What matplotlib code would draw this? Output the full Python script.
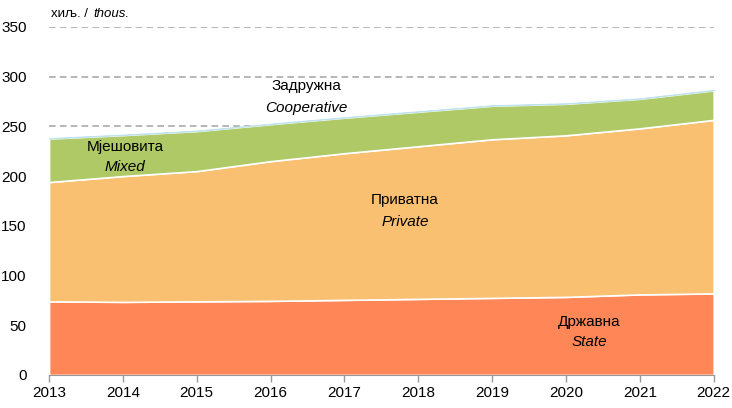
import matplotlib.pyplot as plt
import numpy as np

plt.rcParams['font.family'] = ['Liberation Sans', 'DejaVu Sans']

# Дані (тис.)
years = [2013, 2014, 2015, 2016, 2017, 2018, 2019, 2020, 2021, 2022]
state = [74, 73.5, 74, 74.5, 75.5, 76.5, 77.5, 78.5, 81, 82]
private = [120, 126.5, 131, 140.5, 147.5, 153.5, 159.5, 162.5, 167, 174.5]
mixed = [43.7, 41.2, 40.2, 37.2, 35.7, 34.7, 33.7, 31.7, 29.7, 29.7]
cooperative = [0.6, 0.6, 0.6, 0.6, 0.6, 0.6, 0.6, 0.6, 0.6, 0.6]

colors = ['#FF8656', '#F9C071', '#AEC966', '#BFE3EC']

fig = plt.figure(figsize=(7.32, 4.08), dpi=100)
ax = fig.add_axes([0.067, 0.081, 0.908, 0.853])

polys = ax.stackplot(years, state, private, mixed, cooperative, colors=colors,
                     edgecolor='white', linewidth=1.2, zorder=2)
polys[-1].set_edgecolor('#BFE3EC')
polys[-1].set_linewidth(0.6)

ax.set_xlim(2013, 2022)
ax.set_ylim(0, 350)
ax.set_xticks(years)
ax.set_yticks(range(0, 351, 50))
ax.yaxis.grid(True, linestyle=(0, (4, 2.5)), color='#AAAAAA', linewidth=1.2, zorder=0)
ax.set_axisbelow(True)

for s in ['top', 'right', 'left']:
    ax.spines[s].set_visible(False)
ax.spines['bottom'].set_color('#999999')
ax.spines['bottom'].set_zorder(3)
ax.tick_params(axis='x', colors='#999999', length=5, width=1, labelcolor='black',
               labelsize=11, pad=3)
ax.tick_params(axis='y', length=0, labelsize=11, pad=16, labelcolor='black')

# Підписи шарів
def layer_label(x, y1, y2, top, bottom):
    ax.text(x, y1, top, ha='center', va='center', fontsize=11, zorder=5)
    ax.text(x, y2, bottom, ha='center', va='center', fontsize=11, style='italic', zorder=5)

layer_label(2014.03, 229.5, 209, 'Мјешовита', 'Mixed')
layer_label(2016.49, 290.5, 268.5, 'Задружна', 'Cooperative')
layer_label(2017.82, 176, 154, 'Приватна', 'Private')
layer_label(2020.32, 53.5, 33, 'Државна', 'State')

fig.text(0.069, 0.965, 'хиљ. / ', ha='left', va='center', fontsize=9.5)
fig.text(0.127, 0.965, 'thous.', ha='left', va='center', fontsize=9.5, style='italic')

plt.savefig('out.png', dpi=100)
